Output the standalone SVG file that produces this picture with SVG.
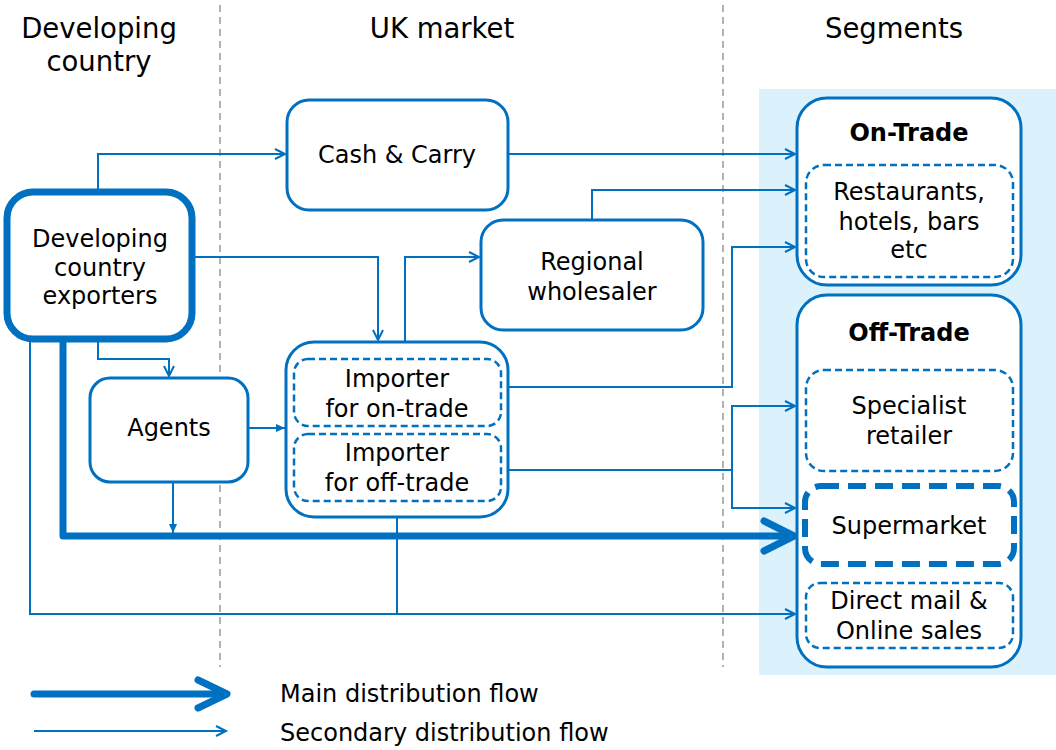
<svg xmlns="http://www.w3.org/2000/svg" width="1056" height="750" viewBox="0 0 1056 750">
<style>
.t{font-family:"DejaVu Sans","Liberation Sans",sans-serif;font-size:24px;fill:#000;text-anchor:middle}
.h{font-size:27.5px}
.b{font-weight:bold}
.lg{text-anchor:start;font-size:24px}
.box{fill:#fff;stroke:#0070c0;stroke-width:3}
.dbox{fill:#fff;stroke:#0070c0;stroke-width:2.5;stroke-dasharray:7 4}
.c{fill:none;stroke:#0070c0;stroke-width:2}
.main{fill:none;stroke:#0070c0;stroke-width:7;stroke-linecap:round;stroke-linejoin:round}
.sep{stroke:#9a9a9a;stroke-width:1.5;stroke-dasharray:7 5}
</style>
<defs>
<marker id="a" markerUnits="userSpaceOnUse" markerWidth="14" markerHeight="14" refX="11" refY="6" orient="auto">
<path d="M1,1 L11,6 L1,11" fill="none" stroke="#0070c0" stroke-width="2"/>
</marker>
<marker id="f" markerUnits="userSpaceOnUse" markerWidth="12" markerHeight="12" refX="9" refY="5" orient="auto">
<path d="M0,1 L9,5 L0,9 Z" fill="#0070c0"/>
</marker>
</defs>
<rect width="1056" height="750" fill="#fff"/>
<rect x="759" y="89" width="297" height="586" fill="#dbf1fc"/>
<line class="sep" x1="220" y1="5" x2="220" y2="667"/>
<line class="sep" x1="723" y1="5" x2="723" y2="667"/>
<g id="headers">
<text class="t h" x="99" y="38">Developing</text>
<text class="t h" x="99" y="71">country</text>
<text class="t h" x="442" y="38">UK market</text>
<text class="t h" x="894" y="38">Segments</text>
</g>
<g id="connectors">
<polyline class="c" points="98,189 98,154 285,154" marker-end="url(#a)"/>
<polyline class="c" points="194,257 378,257 378,340" marker-end="url(#a)"/>
<polyline class="c" points="405,341 405,257 479,257" marker-end="url(#a)"/>
<polyline class="c" points="509,154 795,154" marker-end="url(#a)"/>
<polyline class="c" points="592,219 592,190 795,190" marker-end="url(#a)"/>
<polyline class="c" points="509,387 732,387 732,247 795,247" marker-end="url(#a)"/>
<polyline class="c" points="509,470 732,470"/>
<polyline class="c" points="732,508 732,406 795,406" marker-end="url(#a)"/>
<polyline class="c" points="732,470 732,508 795,508" marker-end="url(#a)"/>
<polyline class="c" points="98,342 98,359 169,359 169,376" marker-end="url(#a)"/>
<polyline class="c" points="249,428 285,428" marker-end="url(#f)"/>
<polyline class="c" points="173,483 173,533" marker-end="url(#f)"/>
<polyline class="c" points="30,342 30,614 795,614" marker-end="url(#a)"/>
<polyline class="c" points="397,518 397,614"/>
<polyline class="main" points="63,342 63,536 790,536"/>
<polyline class="main" points="764,521 794,536 764,551"/>
</g>
<g id="exporters">
<rect x="7" y="192" width="185" height="147" rx="26" fill="#fff" stroke="#0070c0" stroke-width="7"/>
<text class="t" x="100" y="247">Developing</text>
<text class="t" x="100" y="276">country</text>
<text class="t" x="100" y="304">exporters</text>
</g>
<g id="cash-carry">
<rect class="box" x="287" y="100" width="221" height="110" rx="22"/>
<text class="t" x="397" y="163">Cash &amp; Carry</text>
</g>
<g id="regional-wholesaler">
<rect class="box" x="481" y="220" width="222" height="110" rx="22"/>
<text class="t" x="592" y="270">Regional</text>
<text class="t" x="592" y="300">wholesaler</text>
</g>
<g id="agents">
<rect class="box" x="90" y="378" width="158" height="104" rx="20"/>
<text class="t" x="169" y="436">Agents</text>
</g>
<g id="importer">
<rect class="box" x="286" y="342" width="222" height="175" rx="28"/>
<rect class="dbox" x="294" y="359" width="207" height="67" rx="14"/>
<text class="t" x="397" y="387">Importer</text>
<text class="t" x="397" y="417">for on-trade</text>
<rect class="dbox" x="294" y="434" width="207" height="67" rx="14"/>
<text class="t" x="397" y="461">Importer</text>
<text class="t" x="397" y="491">for off-trade</text>
</g>
<g id="on-trade">
<rect class="box" x="797" y="98" width="224" height="187" rx="30"/>
<text class="t b" x="909" y="141">On-Trade</text>
<rect class="dbox" x="806" y="165" width="207" height="112" rx="18"/>
<text class="t" x="909" y="200">Restaurants,</text>
<text class="t" x="909" y="230">hotels, bars</text>
<text class="t" x="909" y="258">etc</text>
</g>
<g id="off-trade">
<rect class="box" x="797" y="295" width="224" height="372" rx="30"/>
<text class="t b" x="909" y="341">Off-Trade</text>
<rect class="dbox" x="806" y="370" width="207" height="101" rx="18"/>
<text class="t" x="909" y="414">Specialist</text>
<text class="t" x="909" y="444">retailer</text>
<rect x="805" y="486" width="209" height="78" rx="16" fill="#fff" stroke="#0070c0" stroke-width="6" stroke-dasharray="18 9"/>
<text class="t" x="909" y="534">Supermarket</text>
<rect class="dbox" x="806" y="583" width="207" height="65" rx="14"/>
<text class="t" x="909" y="609">Direct mail &amp;</text>
<text class="t" x="909" y="639">Online sales</text>
</g>
<g id="legend">
<line class="main" x1="34" y1="694" x2="224" y2="694"/>
<polyline class="main" points="198,680 227,694 198,708"/>
<line class="c" x1="34" y1="731" x2="226" y2="731" marker-end="url(#a)"/>
<text class="t lg" x="280" y="702">Main distribution flow</text>
<text class="t lg" x="280" y="741">Secondary distribution flow</text>
</g>
</svg>
